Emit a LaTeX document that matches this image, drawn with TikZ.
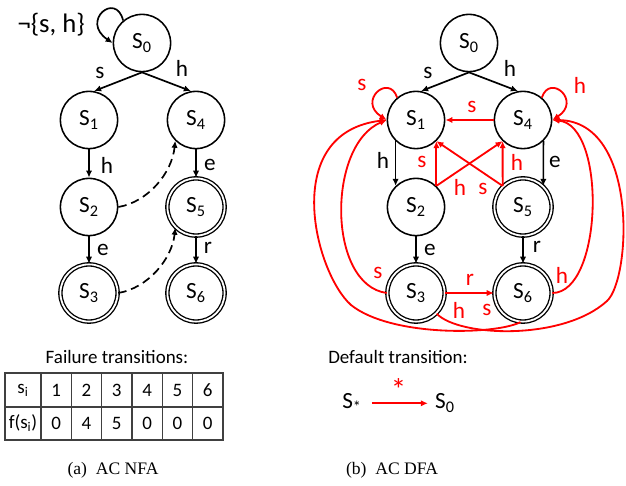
\documentclass[tikz,border=0pt]{standalone}
\usepackage{fontspec}
\setmainfont{Carlito}
\newfontfamily\capfont{Liberation Serif}
\usetikzlibrary{arrows.meta}

\begin{document}
\begin{tikzpicture}[>={Latex[length=5pt,width=4.5pt]},
  st/.style={circle,draw,line width=1.1pt,minimum size=1.43cm,inner sep=0pt,
    font=\fontsize{16.5}{19}\selectfont},
  acc/.style={st,line width=0.95pt,double,double distance=1.3pt},
  lab/.style={inner sep=0pt,font=\fontsize{16.5}{19}\selectfont},
  rlab/.style={lab,text=red},
  tr/.style={->,line width=1.2pt},
  fl/.style={->,line width=1.2pt,dash pattern=on 6pt off 3.5pt},
  dt/.style={->,red,line width=1.3pt},
  txt/.style={font=\fontsize{13.5}{16}\selectfont},
  tbl/.style={line width=0.8pt,black!75},
  capt/.style={font=\capfont\fontsize{12.5}{15}\selectfont}]
  \useasboundingbox (0,0) rectangle (15.65,12.125);
  % (a) NFA: goto edges plus dashed failure links
  \begin{scope}
    \node[st] (n0) at (3.55,11.05) {S\textsubscript{0}};
    \node[st] (n1) at (2.225,9.125) {S\textsubscript{1}};
    \node[st] (n4) at (4.9,9.125) {S\textsubscript{4}};
    \node[st] (n2) at (2.225,6.95) {S\textsubscript{2}};
    \node[acc] (n5) at (4.9,6.95) {S\textsubscript{5}};
    \node[acc] (n3) at (2.225,4.8) {S\textsubscript{3}};
    \node[acc] (n6) at (4.9,4.8) {S\textsubscript{6}};
    \draw[tr] (n0.130) .. controls (2.9,12.35) and (2.0,11.6) .. (n0.west);
    \draw[tr] (n0.south) -- (n1.80);
    \draw[tr] (n0.south) -- (n4.100);
    \draw[tr] (n1) -- (n2);
    \draw[tr] (n2) -- (n3);
    \draw[tr] (n4) -- (n5);
    \draw[tr] (n5) -- (n6);
    \draw[fl] (n2.east) .. controls (3.7,7.075) and (4.3,7.8) .. (n4.225);
    \draw[fl] (n3.east) .. controls (3.7,4.925) and (4.3,5.65) .. (n5.225);
    \node[lab,font=\fontsize{19}{22}\selectfont] (aneg) at (1.28,11.5) {¬\{s, h\}};
    \node[lab] (a01) at (2.5,10.3) {s};
    \node[lab] (a04) at (4.55,10.425) {h};
    \node[lab] (a12) at (2.675,8.0) {h};
    \node[lab] (a23) at (2.575,5.875) {e};
    \node[lab] (a45) at (5.25,8.0) {e};
    \node[lab] (a56) at (5.2,5.925) {r};
  \end{scope}
  % failure table
  \node[txt] (ftitle) at (2.925,3.2) {Failure transitions:};
  \draw[tbl] (0.125,1.125) rectangle (5.575,2.8);
  \draw[tbl] (0.125,1.95) -- (5.575,1.95);
  \foreach \k in {0,...,5}
    \draw[tbl] ({1.025+\k*0.758},1.125) -- ({1.025+\k*0.758},2.8);
  \node[txt] (fsh) at (0.575,2.375) {s\textsubscript{i}};
  \node[txt] (ffh) at (0.575,1.5375) {f(s\textsubscript{i})};
  \foreach \v [count=\i] in {1,...,6}
    \node[txt] (fs\i) at ({1.025+(\i-0.5)*0.758},2.375) {\v};
  \foreach \v [count=\i] in {0,4,5,0,0,0}
    \node[txt] (ff\i) at ({1.025+(\i-0.5)*0.758},1.5375) {\v};
  \node[capt] (capa) at (2.825,0.375) {(a)\enspace AC NFA};
  % (b) DFA: red edges replace the failure links
  \begin{scope}[xshift=8.175cm]
    \node[st] (m0) at (3.55,11.05) {S\textsubscript{0}};
    \node[st] (m1) at (2.225,9.125) {S\textsubscript{1}};
    \node[st] (m4) at (4.9,9.125) {S\textsubscript{4}};
    \node[st] (m2) at (2.225,6.95) {S\textsubscript{2}};
    \node[acc] (m5) at (4.9,6.95) {S\textsubscript{5}};
    \node[acc] (m3) at (2.225,4.8) {S\textsubscript{3}};
    \node[acc] (m6) at (4.9,4.8) {S\textsubscript{6}};
    \draw[tr] (m0.south) -- (m1.80);
    \draw[tr] (m0.south) -- (m4.100);
    \draw[tr] (m1.226) -- (m2.134);
    \draw[tr] (m4.-46) -- (m5.46);
    \draw[tr] (m2) -- (m3);
    \draw[tr] (m5) -- (m6);
    \node[lab] (b01) at (2.525,10.3) {s};
    \node[lab] (b04) at (4.575,10.425) {h};
    \node[lab] (b12) at (1.4,8.125) {h};
    \node[lab] (b45) at (5.7,8.075) {e};
    \node[lab] (b23) at (2.575,5.875) {e};
    \node[lab] (b56) at (5.25,5.95) {r};
    \draw[dt] (m1.130) .. controls (1.55,10.3) and (0.75,9.6) .. (m1.west);
    \draw[dt] (m4.50) .. controls (5.575,10.3) and (6.375,9.6) .. (m4.east);
    \draw[dt] (m4.west) -- (m1.east);
    \draw[dt] (m2.46) -- (m1.-46);
    \draw[dt] (m2.46) -- (m4.226);
    \draw[dt] (m5.134) -- (m4.226);
    \draw[dt] (m5.134) -- (m1.-46);
    \draw[dt] (m3.east) -- (m6.west);
    \draw[dt] (m3.west) .. controls (0,5.0) and (0,8.5) .. (m1.west);
    \draw[dt] (m6.265) .. controls (4.2,3.75) and (1.6,3.7) .. (0.6,4.5)
      .. controls (-0.3,5.3) and (-1.2,8.8) .. (m1.west);
    \draw[dt] (m3.-45) .. controls (3.3,3.7) and (5.9,3.6) .. (7.0,4.6)
      .. controls (7.6,5.15) and (7.8,9.1) .. (m4.east);
    \draw[dt] (m6.east) .. controls (6.9,4.8) and (7.0,9.0) .. (m4.east);
    \node[rlab] (r11) at (0.875,10.0) {s};
    \node[rlab] (r44) at (6.325,10.0) {h};
    \node[rlab] (r41) at (3.625,9.45) {s};
    \node[rlab] (r21) at (2.37,8.08) {s};
    \node[rlab] (r24) at (3.325,7.45) {h};
    \node[rlab] (r54) at (4.75,8.075) {h};
    \node[rlab] (r51) at (3.9,7.4) {s};
    \node[rlab] (r36) at (3.575,5.125) {r};
    \node[rlab] (r31) at (1.275,5.3) {s};
    \node[rlab] (r61) at (4.0,4.375) {s};
    \node[rlab] (r34) at (3.3,4.375) {h};
    \node[rlab] (r64) at (5.875,5.25) {h};
  \end{scope}
  % default transition
  \node[txt] (dtitle) at (9.95,3.2) {Default transition:};
  \node[lab,anchor=base] (d0) at (8.8,1.9) {S\textsubscript{*}};
  \node[lab,anchor=base] (d1) at (11.125,1.9) {S\textsubscript{0}};
  \draw[dt,shorten <=7pt,shorten >=5pt] (d0.east) -- node[rlab,above=1pt,
    font=\fontsize{22}{24}\selectfont] (dstar) {*} (d0.east -| d1.west);
  \node[capt] (capb) at (9.8,0.375) {(b)\enspace AC DFA};
\end{tikzpicture}
\end{document}
